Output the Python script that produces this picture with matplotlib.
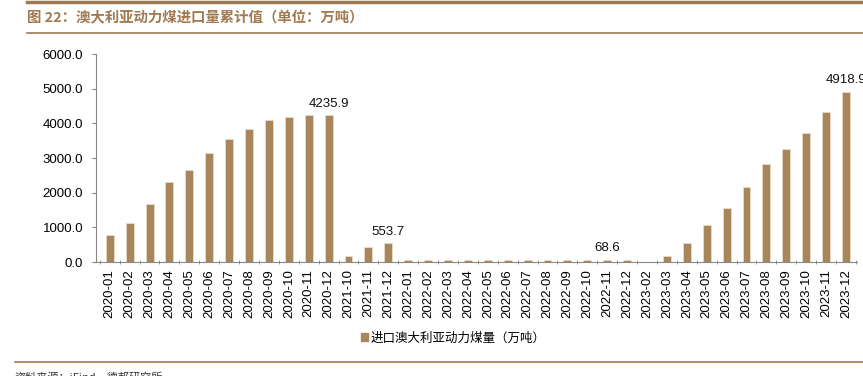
import matplotlib
matplotlib.use("Agg")
import matplotlib.pyplot as plt
from matplotlib.lines import Line2D

categories = (["2020-%02d" % m for m in range(1, 13)]
              + ["2021-10", "2021-11", "2021-12"]
              + ["2022-%02d" % m for m in range(1, 13)]
              + ["2023-%02d" % m for m in range(2, 13)])

values = [775, 1115, 1675, 2322, 2653, 3155, 3553, 3852, 4104, 4200, 4230, 4235.9,
          185, 435, 553.7,
          63, 64, 65, 66, 66, 67, 67, 68, 68, 68, 68.6, 68.6,
          2, 183, 551, 1083, 1547, 2166, 2824, 3269, 3724, 4325, 4918.9]

labeled = {"2020-12": "4235.9", "2021-12": "553.7", "2022-11": "68.6", "2023-12": "4918.9"}

yticks = [0, 1000, 2000, 3000, 4000, 5000, 6000]

title = "图 22：澳大利亚动力煤进口量累计值（单位：万吨）"
legend_label = "进口澳大利亚动力煤量（万吨）"
source = "资料来源：iFind，德邦研究所"

brown = "#A9855C"
title_col = "#A07A52"

plt.rcParams['font.family'] = ['Liberation Sans', 'Noto Sans CJK SC', 'DejaVu Sans']

fig = plt.figure(figsize=(8.63, 3.76), dpi=100)
ax = fig.add_axes([0.111, 0.303, 0.882, 0.553])

x = list(range(len(categories)))
ax.bar(x, values, width=0.4, color=brown, edgecolor="#E8DCC8", linewidth=0.6)

for i, c in enumerate(categories):
    if c in labeled:
        ax.text(i, values[i] + 150, labeled[c], ha="center", va="bottom", fontsize=9.5, color="#111111")

ax.set_xlim(-0.7, len(categories) - 0.45)
ax.set_ylim(0, 6000)
ax.set_yticks(yticks)
ax.set_yticklabels(["%.1f" % v for v in yticks], fontsize=9.5)
ax.set_xticks(x)
ax.set_xticklabels(categories, rotation=90, fontsize=9.5)
ax.tick_params(axis='x', length=0, pad=5)
ax.set_xticks([i + 0.5 for i in range(-1, len(categories))], minor=True)
ax.tick_params(axis='x', which='minor', length=3, direction='inout', color="#888888")
ax.tick_params(axis='y', length=3, color="#888888", pad=6)

for s in ['top', 'right']:
    ax.spines[s].set_visible(False)
for s in ['left', 'bottom']:
    ax.spines[s].set_color("#888888")
    ax.spines[s].set_linewidth(0.8)

# title and decorative lines
fig.add_artist(Line2D([0.031, 1.0], [0.994, 0.994], color=title_col, lw=2.5, transform=fig.transFigure))
fig.text(0.031, 0.952, title, fontsize=10.4, fontweight='bold', color=title_col,
         va='center', ha='left', family=['Noto Sans CJK SC', 'DejaVu Sans'])
fig.add_artist(Line2D([0.031, 1.0], [0.912, 0.912], color=title_col, lw=1.2, transform=fig.transFigure))

# legend
leg = fig.legend([plt.Rectangle((0, 0), 1, 1, color=brown)], [legend_label],
                 loc='center', bbox_to_anchor=(0.525, 0.101), frameon=False,
                 prop={'family': ['Noto Sans CJK SC', 'DejaVu Sans'], 'size': 9},
                 handlelength=0.6, handleheight=0.6, handletextpad=0.2)

# footer
fig.add_artist(Line2D([0.017, 1.0], [0.037, 0.037], color=title_col, lw=1.2, transform=fig.transFigure))
fig.text(0.017, -0.005, source, fontsize=8, color="#333333", va='center', ha='left',
         family=['Noto Sans CJK SC', 'DejaVu Sans'])

fig.savefig("out.png", dpi=100)
